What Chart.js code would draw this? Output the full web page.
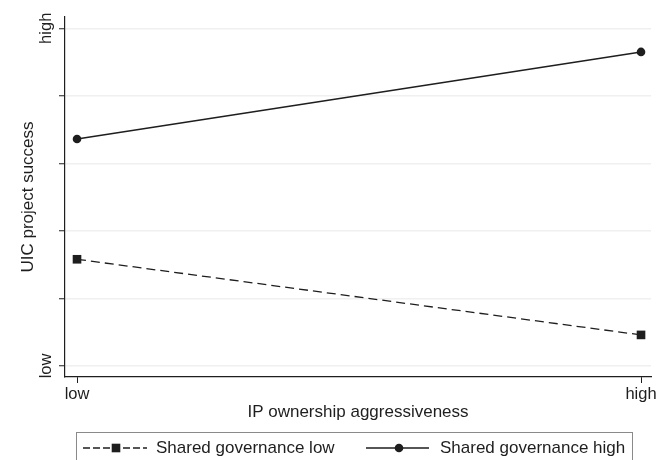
<!DOCTYPE html>
<html>
<head>
<meta charset="utf-8">
<script src="https://cdn.jsdelivr.net/npm/chart.js@4.4.0/dist/chart.umd.min.js"></script>
<style>
  html, body { margin: 0; padding: 0; background: #fff; }
  #wrap { width: 670px; height: 460px; }
</style>
</head>
<body>
<div id="wrap"><canvas id="myChart" width="670" height="460"></canvas></div>
<script>
// x categories (positions 0 and 1 on the x scale)
var xLabels = ['low', 'high'];
// y axis tick labels (0..5)
var yLabels = ['low', '', '', '', '', 'high'];

var govLow = [1.58, 0.46];
var govHigh = [3.36, 4.65];

var FONT = '"Liberation Sans", Arial, Helvetica, sans-serif';
var INK = '#1e1e1e';

function pts(arr) {
    return arr.map(function (v, i) { return { x: i, y: v }; });
}

// rotated y tick labels + legend box at the bottom
var extras = {
    id: 'extras',
    afterDraw: function (chart) {
        var ctx = chart.ctx;
        var ys = chart.scales.y;
        ctx.save();
        ctx.fillStyle = INK;
        ctx.font = '16.5px ' + FONT;
        ctx.textAlign = 'center';
        ctx.textBaseline = 'middle';
        yLabels.forEach(function (lab, i) {
            if (!lab) return;
            ctx.save();
            ctx.translate(46, ys.getPixelForValue(i));
            ctx.rotate(-Math.PI / 2);
            ctx.fillText(lab, 0, 0);
            ctx.restore();
        });

        // legend
        ctx.strokeStyle = '#8a8a8a';
        ctx.lineWidth = 1;
        ctx.strokeRect(76.5, 432.5, 556, 40);

        var ly = 448;
        var items = [
            { x0: 83, x1: 147, mx: 116, text: 156 },
            { x0: 366, x1: 429, mx: 399, text: 440 }
        ];
        chart.data.datasets.forEach(function (ds, i) {
            var it = items[i];
            ctx.strokeStyle = INK;
            ctx.lineWidth = 1.5;
            ctx.setLineDash(ds.borderDash ? [7, 3] : []);
            ctx.beginPath();
            ctx.moveTo(it.x0, ly);
            ctx.lineTo(it.x1, ly);
            ctx.stroke();
            ctx.setLineDash([]);
            ctx.fillStyle = INK;
            if (ds.pointStyle === 'rect') {
                ctx.fillStyle = '#fff';
                ctx.fillRect(it.mx - 6, ly - 2, 12, 4);
                ctx.fillStyle = INK;
                ctx.fillRect(it.mx - 4.3, ly - 4.3, 8.6, 8.6);
            } else {
                ctx.beginPath();
                ctx.arc(it.mx, ly, 4.3, 0, Math.PI * 2);
                ctx.fill();
            }
            ctx.textAlign = 'left';
            ctx.textBaseline = 'middle';
            ctx.font = '17px ' + FONT;
            ctx.fillText(ds.label, it.text, ly);
        });
        ctx.restore();
    }
};

var ctx = document.getElementById('myChart').getContext('2d');

var myChart = new Chart(ctx, {
    type: 'line',
    data: {
        datasets: [{
            label: 'Shared governance low',
            data: pts(govLow),
            borderColor: INK,
            backgroundColor: INK,
            borderWidth: 1.3,
            borderDash: [9, 5],
            pointStyle: 'rect',
            pointRadius: 6.1,
            pointBorderWidth: 0,
            fill: false
        }, {
            label: 'Shared governance high',
            data: pts(govHigh),
            borderColor: INK,
            backgroundColor: INK,
            borderWidth: 1.5,
            pointStyle: 'circle',
            pointRadius: 4.3,
            pointBorderWidth: 0,
            fill: false
        }]
    },
    options: {
        responsive: false,
        animation: false,
        layout: { padding: { top: 17, right: 19, left: 0, bottom: 0 } },
        plugins: {
            legend: { display: false },
            tooltip: { enabled: false }
        },
        scales: {
            x: {
                type: 'linear',
                min: -0.0213,
                max: 1.0177,
                afterBuildTicks: function (s) {
                    s.ticks = xLabels.map(function (l, i) { return { value: i }; });
                },
                afterFit: function (s) { s.height = 83; },
                ticks: {
                    padding: 2,
                    maxRotation: 0,
                    color: INK,
                    font: { family: FONT, size: 16.5 },
                    callback: function (v) { return xLabels[v]; }
                },
                grid: {
                    drawOnChartArea: false,
                    tickLength: 6,
                    tickColor: INK,
                    lineWidth: 1
                },
                border: { color: INK, width: 1.2 },
                title: {
                    display: true,
                    text: 'IP ownership aggressiveness',
                    color: INK,
                    font: { family: FONT, size: 17 },
                    padding: { top: 0, bottom: 37 }
                }
            },
            y: {
                type: 'linear',
                min: -0.163,
                max: 5.167,
                afterBuildTicks: function (s) {
                    s.ticks = yLabels.map(function (l, i) { return { value: i }; });
                },
                afterFit: function (s) { s.width = 65; },
                ticks: { display: false },
                grid: {
                    color: '#f0f0f0',
                    lineWidth: 1.5,
                    tickLength: 6,
                    tickColor: INK,
                    tickWidth: 1
                },
                border: { color: INK, width: 1.2 },
                title: {
                    display: true,
                    text: 'UIC project success',
                    color: INK,
                    font: { family: FONT, size: 17 },
                    padding: { top: 18, bottom: 0 }
                }
            }
        }
    },
    plugins: [extras]
});
</script>
</body>
</html>
